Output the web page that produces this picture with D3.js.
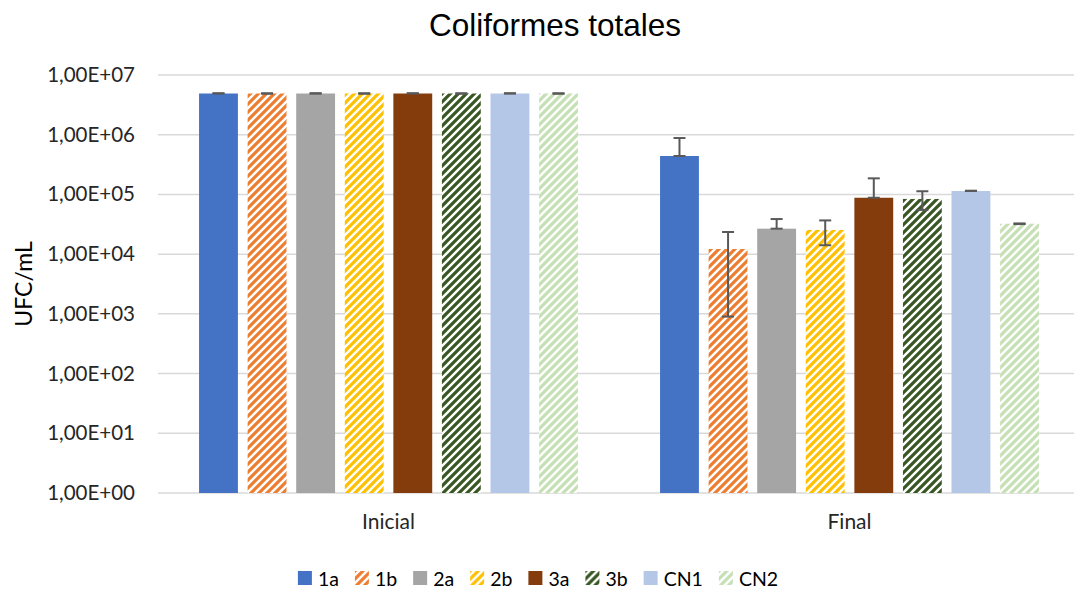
<!DOCTYPE html>
<html>
<head>
<meta charset="utf-8">
<script src="https://cdn.jsdelivr.net/npm/d3@7"></script>
<style>
  html, body { margin: 0; padding: 0; background: #fff; }
  svg { display: block; }
</style>
</head>
<body>
<svg id="chart" width="1074" height="593"></svg>
<script>
// Coliform counts per treatment, at the start and the end of the trial
const categories = ["Inicial", "Final"];
const seriesNames = ["1a", "1b", "2a", "2b", "3a", "3b", "CN1", "CN2"];
const inicialValues = [4.9e6, 4.9e6, 4.9e6, 4.9e6, 4.9e6, 4.9e6, 4.9e6, 4.9e6];
const inicialErrors = [4e4, 4e4, 4e4, 4e4, 4e4, 4e4, 4e4, 4e4];
const finalValues = [4.4e5, 1.22e4, 2.67e4, 2.54e4, 8.8e4, 8.4e4, 1.14e5, 3.23e4];
const finalErrors = [4.4e5, 1.13e4, 1.2e4, 1.13e4, 9.8e4, 2.9e4, 1.5e3, 4e2];
const tickValues = [1, 10, 100, 1e3, 1e4, 1e5, 1e6, 1e7];
const tickLabels = ["1,00E+00", "1,00E+01", "1,00E+02", "1,00E+03", "1,00E+04", "1,00E+05", "1,00E+06", "1,00E+07"];

// fill style per series: solid colour or diagonal hatch
const seriesStyle = {
  "1a":  { color: "#4472C4", hatch: false },
  "1b":  { color: "#ED7D31", hatch: true },
  "2a":  { color: "#A5A5A5", hatch: false },
  "2b":  { color: "#FFC000", hatch: true },
  "3a":  { color: "#843C0C", hatch: false },
  "3b":  { color: "#385723", hatch: true },
  "CN1": { color: "#B4C7E7", hatch: false },
  "CN2": { color: "#C5E0B4", hatch: true }
};

const valuesByCategory = { "Inicial": inicialValues, "Final": finalValues };
const errorsByCategory = { "Inicial": inicialErrors, "Final": finalErrors };

const svg = d3.select("#chart");
const plot = { left: 158, right: 1080, top: 75, bottom: 493 };
const labelFont = "Lato, 'Open Sans', sans-serif";

// hatch patterns
const defs = svg.append("defs");
seriesNames.forEach((name, i) => {
  const st = seriesStyle[name];
  if (!st.hatch) return;
  const p = defs.append("pattern")
    .attr("id", "hatch" + i)
    .attr("patternUnits", "userSpaceOnUse")
    .attr("width", 8).attr("height", 8);
  p.append("rect").attr("width", 8).attr("height", 8).attr("fill", "#fff");
  p.append("path")
    .attr("d", "M-2,2 L2,-2 M0,8 L8,0 M6,10 L10,6")
    .attr("stroke", st.color)
    .attr("stroke-width", 3.2)
    .attr("stroke-linecap", "square");
});
const fillOf = (name) => {
  const i = seriesNames.indexOf(name);
  return seriesStyle[name].hatch ? `url(#hatch${i})` : seriesStyle[name].color;
};

// scales
const x0 = d3.scaleBand()
  .domain(categories)
  .range([plot.left, plot.right])
  .paddingInner(0.157)
  .paddingOuter(0.0785);
const x1 = d3.scaleBand()
  .domain(seriesNames)
  .range([0, x0.bandwidth()])
  .paddingInner(0.2)
  .paddingOuter(0.1);
const y = d3.scaleLog()
  .domain([1, 1e7])
  .range([plot.bottom, plot.top]);

// gridlines
svg.append("g")
  .selectAll("line")
  .data(tickValues)
  .join("line")
  .attr("x1", plot.left).attr("x2", plot.right)
  .attr("y1", d => y(d)).attr("y2", d => y(d))
  .attr("stroke", "#d9d9d9")
  .attr("stroke-width", 1.5);

// y axis labels
const yAxis = d3.axisLeft(y)
  .tickValues(tickValues)
  .tickFormat((d, i) => tickLabels[i])
  .tickSize(0)
  .tickPadding(23);
const yG = svg.append("g")
  .attr("transform", `translate(${plot.left},0)`)
  .call(yAxis);
yG.select(".domain").remove();
yG.selectAll("text")
  .attr("font-family", labelFont)
  .attr("font-size", 20.5)
  .attr("fill", "#262626");

// x axis labels
const xAxis = d3.axisBottom(x0).tickSize(0).tickPadding(21);
const xG = svg.append("g")
  .attr("transform", `translate(0,${plot.bottom})`)
  .call(xAxis);
xG.select(".domain").remove();
xG.selectAll("text")
  .attr("font-family", labelFont)
  .attr("font-size", 21)
  .attr("fill", "#262626");

// bars
const rows = [];
categories.forEach(cat => {
  seriesNames.forEach((name, i) => {
    rows.push({ cat, name, value: valuesByCategory[cat][i], err: errorsByCategory[cat][i] });
  });
});

svg.append("g")
  .selectAll("rect")
  .data(rows)
  .join("rect")
  .attr("x", d => x0(d.cat) + x1(d.name))
  .attr("width", x1.bandwidth())
  .attr("y", d => y(d.value))
  .attr("height", d => y(1) - y(d.value))
  .attr("fill", d => fillOf(d.name));

// error bars: solid bars cover the lower whisker, hatched bars show it
const capW = 12;
const eb = svg.append("g")
  .attr("stroke", "#595959")
  .attr("stroke-width", 2);
rows.forEach(d => {
  const cx = x0(d.cat) + x1(d.name) + x1.bandwidth() / 2;
  const yHi = y(d.value + d.err);
  const yMid = y(d.value);
  const showLow = seriesStyle[d.name].hatch && d.value - d.err > 1;
  const yLo = showLow ? y(d.value - d.err) : yMid;
  eb.append("line").attr("x1", cx).attr("x2", cx).attr("y1", yHi).attr("y2", yLo);
  eb.append("line").attr("x1", cx - capW / 2).attr("x2", cx + capW / 2).attr("y1", yHi).attr("y2", yHi);
  eb.append("line").attr("x1", cx - capW / 2).attr("x2", cx + capW / 2).attr("y1", yLo).attr("y2", yLo);
});

// title
svg.append("text")
  .attr("x", 555).attr("y", 36)
  .attr("text-anchor", "middle")
  .attr("font-family", "'Liberation Sans', Arial, sans-serif")
  .attr("font-size", 31.5)
  .attr("fill", "#000")
  .text("Coliformes totales");

// y axis title
svg.append("text")
  .attr("transform", `translate(32,${(plot.top + plot.bottom) / 2}) rotate(-90)`)
  .attr("text-anchor", "middle")
  .attr("font-family", labelFont)
  .attr("font-size", 23)
  .attr("fill", "#000")
  .text("UFC/mL");

// legend
const legend = svg.append("g");
const sq = 14, gapText = 6, gapItem = 16;
let lx = 0;
seriesNames.forEach(name => {
  const g = legend.append("g");
  g.append("rect")
    .attr("x", 0).attr("y", -sq / 2 - 1)
    .attr("width", sq).attr("height", sq)
    .attr("fill", fillOf(name));
  const t = g.append("text")
    .attr("x", sq + gapText).attr("y", 0)
    .attr("dy", "0.35em")
    .attr("font-family", labelFont)
    .attr("font-size", 19.5)
    .attr("fill", "#000")
    .text(name);
  const w = sq + gapText + t.node().getComputedTextLength();
  g.attr("transform", `translate(${lx},0)`);
  lx += w + gapItem;
});
const totalW = lx - gapItem;
legend.attr("transform", `translate(${(297 + 779) / 2 - totalW / 2},579)`);
</script>
</body>
</html>
